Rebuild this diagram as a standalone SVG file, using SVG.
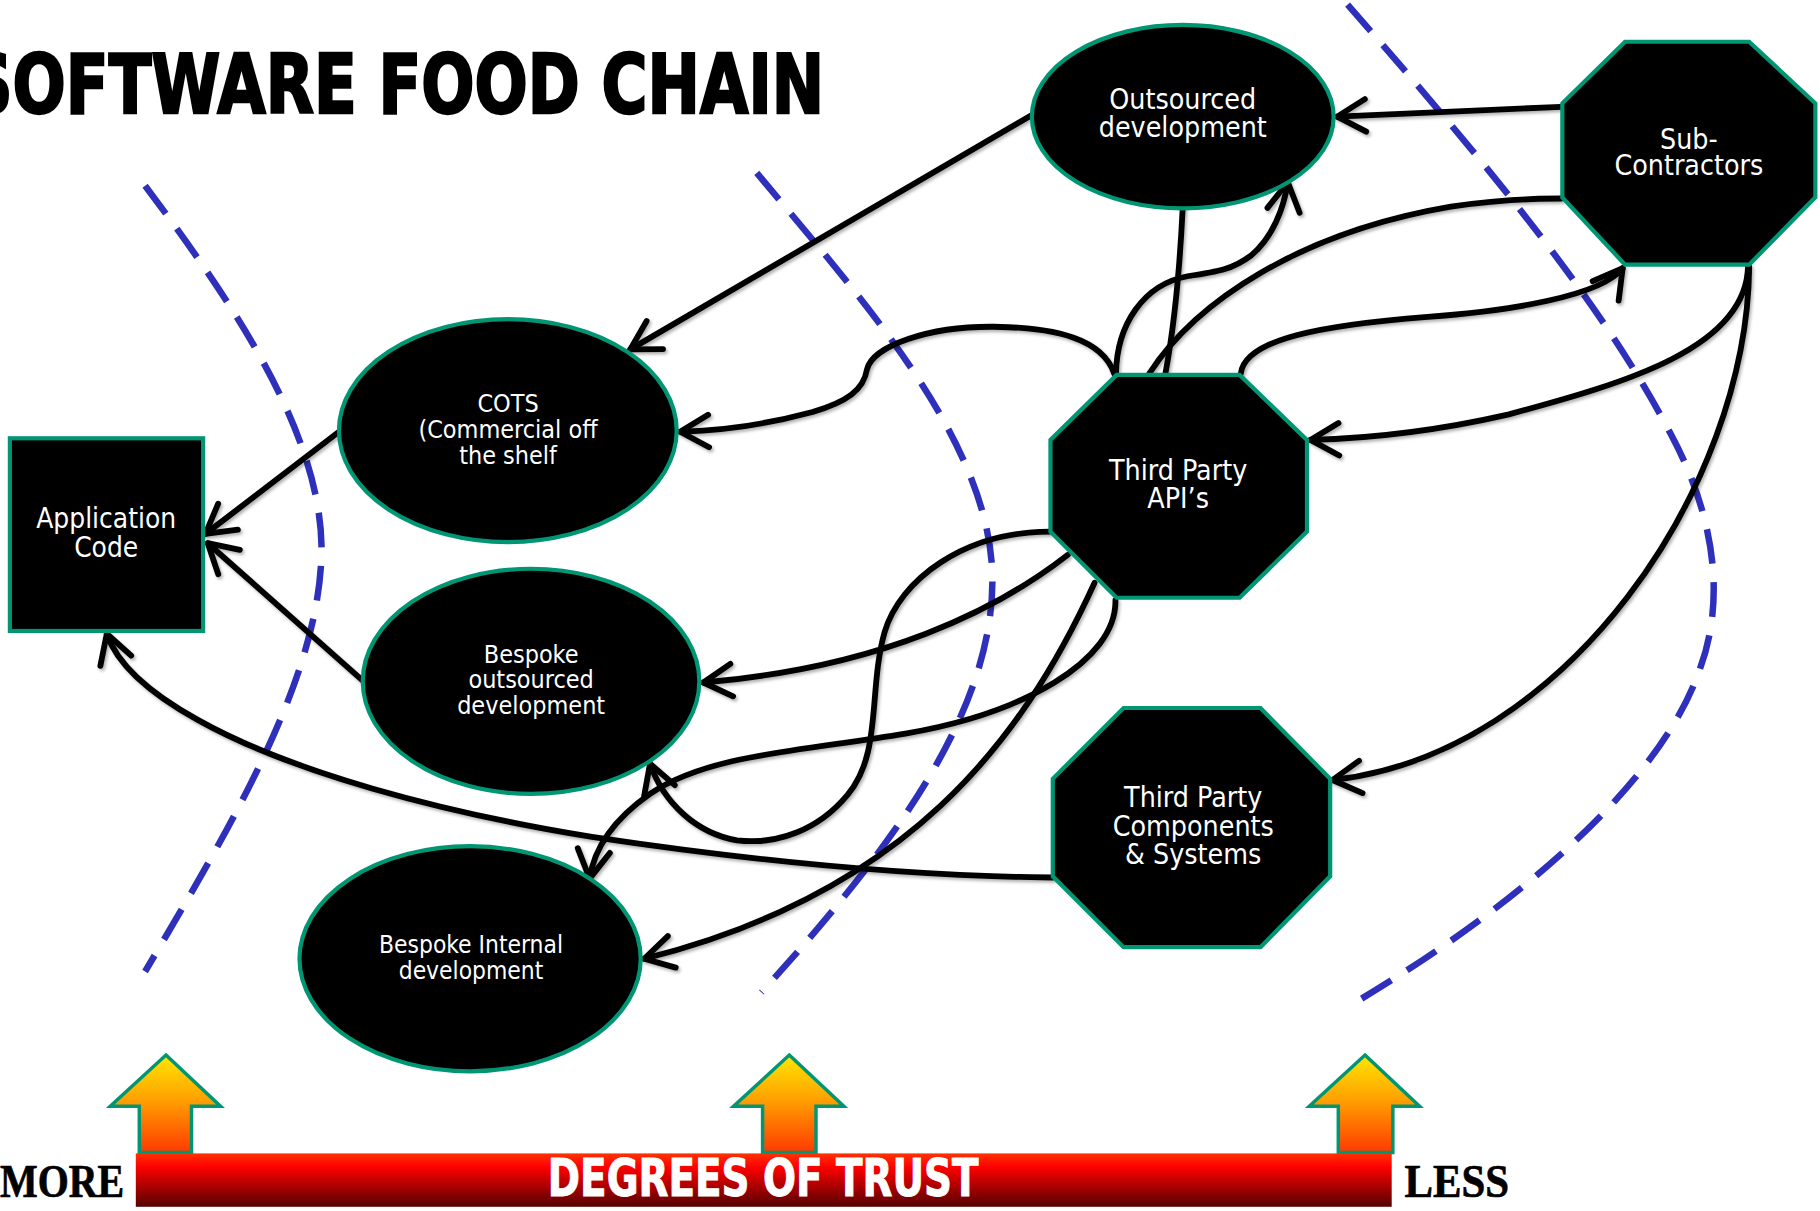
<svg xmlns="http://www.w3.org/2000/svg" width="1820" height="1211" viewBox="0 0 1820 1211">
<defs>
<style>
.node{fill:#000;stroke:#009673;stroke-width:3.6}
.lbl{font-family:"DejaVu Sans Condensed","DejaVu Sans",sans-serif;fill:#fff;text-anchor:middle}
.dash{fill:none;stroke:#2E30BB;stroke-width:5.6;stroke-dasharray:30 16}
.con{fill:none;stroke:#000;stroke-width:5;stroke-linecap:round;stroke-linejoin:round}
.up{stroke:#009673;stroke-width:3;fill:url(#ug)}
</style>
<linearGradient id="ug" x1="0" y1="0" x2="0" y2="1">
<stop offset="0" stop-color="#FFE600"/>
<stop offset="0.45" stop-color="#FFA200"/>
<stop offset="1" stop-color="#FF3A00"/>
</linearGradient>
<linearGradient id="bar" x1="0" y1="0" x2="0" y2="1">
<stop offset="0" stop-color="#FF3300"/>
<stop offset="0.25" stop-color="#FF0000"/>
<stop offset="1" stop-color="#550000"/>
</linearGradient>
<filter id="sh" x="-5%" y="-5%" width="110%" height="110%">
<feDropShadow dx="1.5" dy="2" stdDeviation="1.2" flood-color="#000" flood-opacity="0.3"/>
</filter>
<marker id="ah" markerUnits="userSpaceOnUse" markerWidth="40" markerHeight="40" viewBox="-30 -20 40 40" refX="0" refY="0" orient="auto" overflow="visible">
<path d="M-24.5,-14 L0,0 L-24.5,14" fill="none" stroke="#000" stroke-width="5" stroke-linecap="round" stroke-linejoin="round"/>
</marker>
</defs>
<rect width="1820" height="1211" fill="#fff"/>
<g transform="scale(1.160714)">

<g id="title">
<text x="-28" y="97.5" textLength="738" lengthAdjust="spacingAndGlyphs" font-family="'DejaVu Sans Condensed','DejaVu Sans',sans-serif" font-weight="bold" font-size="70" fill="#000" stroke="#000" stroke-width="2">SOFTWARE FOOD CHAIN</text>
</g>

<g id="trust-boundaries">
<path class="dash" d="M125,160 C200,260 275,370 277,470 C278,580 200,710 125,837"/>
<path class="dash" d="M652,149 C740,255 855,380 855,500 C855,620 760,740 656,855"/>
<path class="dash" d="M1161,4 C1280,140 1380,260 1440,375 C1480,450 1485,520 1465,575 C1430,680 1295,788 1167,864"/>
</g>

<g id="connectors" filter="url(#sh)">
<path class="con" d="M889,99 L543,301" marker-end="url(#ah)"/>
<path class="con" d="M1345,92 L1152,100.5" marker-end="url(#ah)"/>
<path class="con" d="M961.5,322 C962,280 985,245 1023,238 C1050,234 1062,232 1078,220 C1096,205 1106,180 1109.5,157" marker-end="url(#ah)"/>
<path class="con" d="M1019,178 C1016,240 1010,290 1004,322"/>
<path class="con" d="M990,322 C1030,260 1120,200 1250,178 C1290,172 1320,171 1345,171"/>
<path class="con" d="M1069,322 C1072,292 1140,280 1230,273 C1300,268 1380,255 1398,231" marker-end="url(#ah)"/>
<path class="con" d="M1506,229 C1505,300 1400,330 1300,357 C1230,373 1170,378 1129,379" marker-end="url(#ah)"/>
<path class="con" d="M1507,230 C1505,420 1350,650 1148,672" marker-end="url(#ah)"/>
<path class="con" d="M960,322 C950,292 910,282 856,281.5 C800,281 752,298 747,318 C744,336 730,346 700,355 C660,366 620,371 586,372" marker-end="url(#ah)"/>
<path class="con" d="M920,478 C860,525 760,575 606,588" marker-end="url(#ah)"/>
<path class="con" d="M905,458 C830,458 775,500 762,545 C748,595 760,650 730,685 C705,715 670,728 635,724 C600,718 572,692 560,658" marker-end="url(#ah)"/>
<path class="con" d="M961,517 C962,570 880,615 780,632 C690,647 610,650 560,684 C530,705 512,730 508,757" marker-end="url(#ah)"/>
<path class="con" d="M943,502 C880,640 780,770 555,826" marker-end="url(#ah)"/>
<path class="con" d="M907,756 C780,755 650,742 510,721 C380,700 250,665 170,620 C125,595 100,570 92,546" marker-end="url(#ah)"/>
<path class="con" d="M292,372 L177,460" marker-end="url(#ah)"/>
<path class="con" d="M312,586 L179,468" marker-end="url(#ah)"/>
</g>

<g id="application-code">
<rect class="node" x="8.5" y="377.6" width="166.5" height="166"/>
<text class="lbl" font-size="24" x="91.5" y="455">Application</text>
<text class="lbl" font-size="24" x="91.5" y="479.6">Code</text>
</g>

<g id="cots">
<ellipse class="node" cx="437.5" cy="371" rx="145.5" ry="96"/>
<text class="lbl" font-size="21.5" x="437.7" y="354.7">COTS</text>
<text class="lbl" font-size="21.5" x="437.7" y="377.6">(Commercial off</text>
<text class="lbl" font-size="21.5" x="437.7" y="400">the shelf</text>
</g>

<g id="bespoke-outsourced">
<ellipse class="node" cx="457.5" cy="587" rx="145" ry="97"/>
<text class="lbl" font-size="21.5" x="457.6" y="571">Bespoke</text>
<text class="lbl" font-size="21.5" x="457.6" y="593">outsourced</text>
<text class="lbl" font-size="21.5" x="457.6" y="615.4">development</text>
</g>

<g id="bespoke-internal">
<ellipse class="node" cx="405" cy="826" rx="147" ry="97"/>
<text class="lbl" font-size="21" x="405.8" y="821.3">Bespoke Internal</text>
<text class="lbl" font-size="21" x="405.8" y="843.7">development</text>
</g>

<g id="outsourced-development">
<ellipse class="node" cx="1019" cy="100.5" rx="130" ry="79"/>
<text class="lbl" font-size="24.4" x="1019" y="94.2">Outsourced</text>
<text class="lbl" font-size="24.4" x="1019" y="118.3">development</text>
</g>

<g id="sub-contractors">
<polygon class="node" points="1400,36 1507,36 1564,89 1564,170 1507,228 1400,228 1346,170 1346,89"/>
<text class="lbl" font-size="24.4" x="1455" y="128">Sub-</text>
<text class="lbl" font-size="24.4" x="1455" y="151">Contractors</text>
</g>

<g id="third-party-apis">
<polygon class="node" points="962,323 1068,323 1126,379 1126,458 1068,515 962,515 905,458 905,379"/>
<text class="lbl" font-size="24.4" x="1015" y="413.5">Third Party</text>
<text class="lbl" font-size="24.4" x="1015" y="438">API’s</text>
</g>

<g id="third-party-components">
<polygon class="node" points="968,610 1086,610 1146,671 1146,755 1086,816 968,816 907,755 907,671"/>
<text class="lbl" font-size="24.4" x="1028" y="695.6">Third Party</text>
<text class="lbl" font-size="24.4" x="1028" y="720">Components</text>
<text class="lbl" font-size="24.4" x="1028" y="744.4">&amp; Systems</text>
</g>

<g id="trust-scale">
<polygon class="up" points="143,909 190,953 165,953 165,993 120,993 120,953 95,953"/>
<polygon class="up" points="680,909 727,953 703,953 703,993 657,993 657,953 632,953"/>
<polygon class="up" points="1176,909 1223,953 1200,953 1200,993 1153,993 1153,953 1128,953"/>
<rect x="117" y="993.7" width="1082" height="46" fill="url(#bar)"/>
<text x="472" y="1030" textLength="371" lengthAdjust="spacingAndGlyphs" font-family="'DejaVu Sans Condensed','DejaVu Sans',sans-serif" font-weight="bold" font-size="45" fill="#fff" stroke="#fff" stroke-width="0.8">DEGREES OF TRUST</text>
<text x="0" y="1031" textLength="107" lengthAdjust="spacingAndGlyphs" font-family="'Liberation Serif',serif" font-weight="bold" font-size="40" fill="#000" stroke="#000" stroke-width="0.6">MORE</text>
<text x="1210" y="1031" textLength="90" lengthAdjust="spacingAndGlyphs" font-family="'Liberation Serif',serif" font-weight="bold" font-size="40" fill="#000" stroke="#000" stroke-width="0.6">LESS</text>
</g>

</g>
</svg>
